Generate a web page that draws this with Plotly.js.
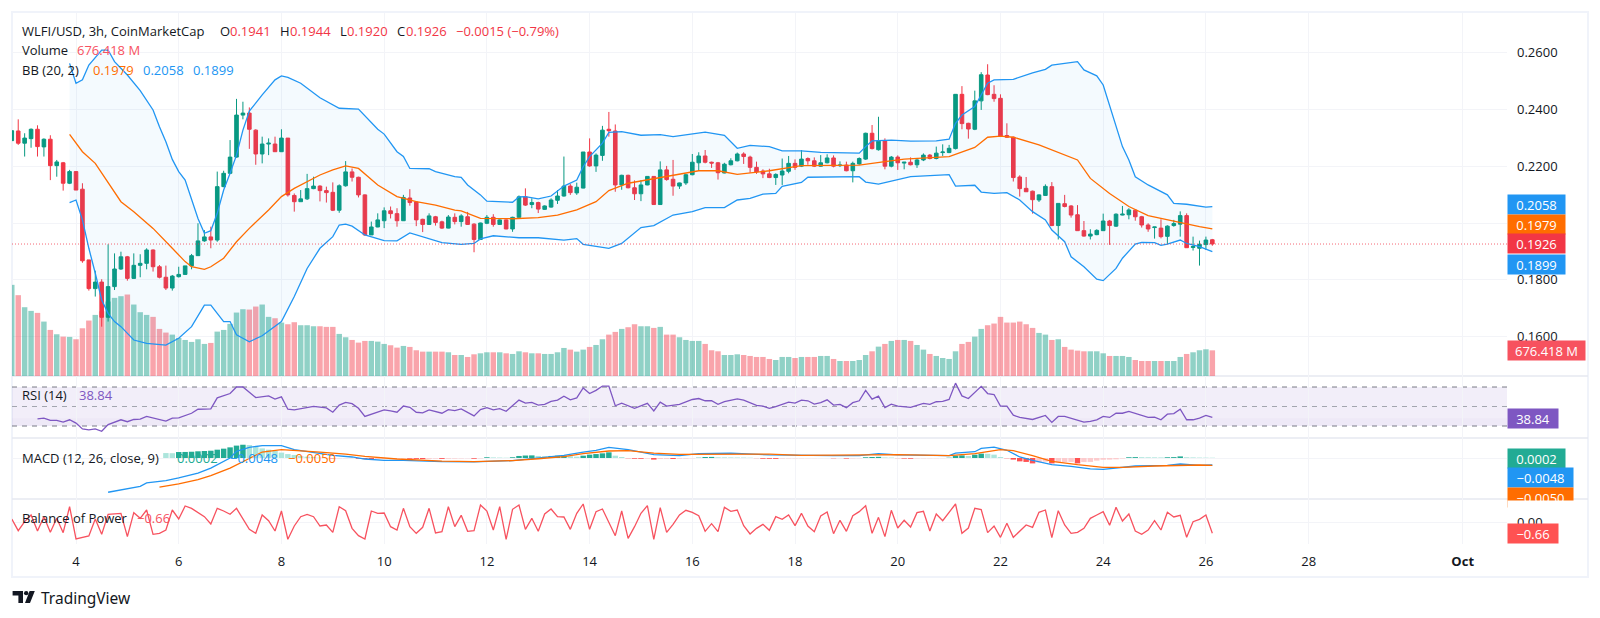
<!DOCTYPE html>
<html><head><meta charset="utf-8">
<script src="https://cdn.plot.ly/plotly-3.0.1.min.js"></script>
<style>html,body{margin:0;padding:0;background:#fff}#chart{width:1600px;height:618px}</style>
</head><body><div id="chart"></div>
<script>
const firstBar=-10;
const opens=[.2290,.2324,.2281,.2297,.2330,.2268,.2295,.2202,.2212,.2140,
.2181,.2119,.1870,.1769,.1792,.1668,.1776,.1838,.1881,.1805,
.1851,.1858,.1905,.1846,.1809,.1771,.1811,.1819,.1849,.1885,
.1937,.1951,.1940,.2128,.2175,.2232,.2380,.2387,.2327,.2243,
.2278,.2278,.2251,.2299,.2097,.2075,.2085,.2121,.2130,.2114,
.2108,.2045,.2131,.2180,.2161,.2099,.1958,.1986,.2008,.2043,
.2033,.2008,.2088,.2074,.2013,.1995,.2022,.2004,.1982,.2020,
.2005,.2022,.1996,.1942,.1999,.2020,.1995,.2011,.1979,.2020,
.2092,.2065,.2072,.2048,.2056,.2080,.2095,.2130,.2106,.2123,
.2250,.2201,.2238,.2330,.2324,.2134,.2168,.2124,.2103,.2134,
.2164,.2065,.2187,.2154,.2130,.2141,.2170,.2212,.2236,.2214,
.2212,.2176,.2205,.2219,.2243,.2232,.2196,.2183,.2173,.2160,
.2169,.2182,.2210,.2200,.2227,.2219,.2200,.2212,.2229,.2202,
.2204,.2184,.2208,.2225,.2316,.2258,.2289,.2200,.2232,.2211,
.2214,.2205,.2222,.2239,.2227,.2248,.2248,.2262,.2453,.2351,
.2330,.2430,.2521,.2453,.2439,.2308,.2302,.2162,.2122,.2112,
.2081,.2097,.2128,.1991,.2068,.2060,.2029,.1973,.1954,.1959,
.1973,.2007,.1989,.2028,.2029,.2045,.2022,.1993,.1984,.1982,
.1953,.1991,.1996,.2026,.1914,.1911,.1924,.1941];
const highs=[.2325,.2365,.2316,.2333,.2344,.2298,.2309,.2222,.2215,.2187,
.2183,.2140,.1870,.1832,.1802,.1925,.1893,.1899,.1884,.1893,
.1890,.1911,.1907,.1852,.1850,.1817,.1846,.1849,.1891,.1999,
.1975,.1987,.2181,.2184,.2292,.2437,.2427,.2407,.2330,.2304,
.2298,.2304,.2330,.2299,.2104,.2116,.2173,.2163,.2133,.2128,
.2143,.2136,.2218,.2192,.2163,.2101,.2005,.2034,.2055,.2058,
.2052,.2099,.2119,.2076,.2015,.2034,.2025,.2008,.2028,.2034,
.2031,.2039,.1999,.2001,.2028,.2031,.2013,.2013,.2022,.2097,
.2122,.2087,.2075,.2062,.2087,.2116,.2234,.2137,.2142,.2250,
.2298,.2245,.2342,.2391,.2347,.2170,.2170,.2150,.2151,.2164,
.2164,.2217,.2201,.2222,.2142,.2173,.2243,.2249,.2257,.2216,
.2215,.2212,.2228,.2248,.2249,.2237,.2216,.2189,.2191,.2175,
.2227,.2236,.2224,.2257,.2231,.2231,.2239,.2242,.2238,.2217,
.2216,.2216,.2231,.2318,.2345,.2374,.2298,.2236,.2238,.2215,
.2231,.2229,.2245,.2243,.2269,.2277,.2275,.2454,.2482,.2353,
.2466,.2531,.2559,.2485,.2453,.2351,.2304,.2168,.2162,.2114,
.2101,.2136,.2144,.2069,.2099,.2063,.2063,.2007,.1978,.1978,
.2033,.2011,.2034,.2060,.2052,.2047,.2025,.1999,.1986,.2013,
.1992,.2011,.2041,.2034,.1952,.1938,.1952,.1944];
const lows=[.2290,.2275,.2234,.2265,.2234,.2234,.2151,.2163,.2114,.2137,
.2116,.1860,.1762,.1741,.1635,.1653,.1764,.1835,.1797,.1803,
.1809,.1837,.1829,.1805,.1764,.1762,.1808,.1817,.1837,.1884,
.1934,.1911,.1934,.2126,.2173,.2230,.2365,.2261,.2205,.2210,
.2239,.2250,.2250,.2093,.2040,.2075,.2081,.2119,.2076,.2072,
.2042,.2036,.2128,.2146,.2090,.1955,.1958,.1985,.1982,.2016,
.1987,.2007,.2061,.1989,.1968,.1994,.1991,.1979,.1981,.1995,
.1987,.1993,.1897,.1940,.1996,.1987,.1994,.1978,.1969,.2018,
.2060,.2052,.2035,.2046,.2054,.2067,.2093,.2099,.2099,.2122,
.2198,.2180,.2219,.2304,.2110,.2117,.2122,.2081,.2077,.2133,
.2065,.2065,.2149,.2096,.2120,.2134,.2168,.2184,.2210,.2194,
.2153,.2175,.2203,.2217,.2208,.2177,.2173,.2158,.2158,.2134,
.2134,.2175,.2187,.2197,.2205,.2197,.2198,.2210,.2196,.2197,
.2182,.2143,.2205,.2222,.2259,.2255,.2189,.2196,.2187,.2189,
.2203,.2194,.2218,.2224,.2224,.2236,.2246,.2259,.2330,.2297,
.2327,.2398,.2450,.2427,.2304,.2300,.2146,.2093,.2110,.2033,
.2074,.2095,.1989,.1942,.2055,.2019,.1972,.1952,.1942,.1957,
.1972,.1923,.1986,.2027,.2013,.2008,.1984,.1969,.1945,.1946,
.1926,.1987,.1952,.1912,.1903,.1850,.1905,.1920];
const closes=[.2325,.2281,.2299,.2330,.2269,.2295,.2202,.2215,.2140,.2181,
.2116,.1867,.1769,.1792,.1668,.1776,.1838,.1881,.1805,.1851,
.1858,.1905,.1846,.1809,.1771,.1813,.1819,.1849,.1885,.1937,
.1951,.1940,.2128,.2175,.2232,.2380,.2387,.2330,.2243,.2278,
.2281,.2251,.2299,.2099,.2075,.2085,.2121,.2130,.2114,.2107,
.2045,.2131,.2180,.2161,.2099,.1958,.1986,.2011,.2043,.2033,
.2008,.2090,.2072,.2011,.1995,.2025,.2002,.1982,.2021,.2005,
.2025,.1995,.1942,.2000,.2020,.1995,.2011,.1979,.2020,.2092,
.2063,.2072,.2049,.2060,.2081,.2095,.2130,.2107,.2126,.2250,
.2201,.2239,.2327,.2325,.2134,.2168,.2124,.2103,.2134,.2164,
.2065,.2187,.2153,.2130,.2141,.2170,.2214,.2236,.2214,.2211,
.2177,.2207,.2219,.2243,.2234,.2196,.2180,.2173,.2160,.2171,
.2183,.2210,.2196,.2225,.2219,.2200,.2212,.2229,.2200,.2204,
.2184,.2210,.2227,.2316,.2262,.2288,.2200,.2232,.2212,.2214,
.2205,.2222,.2239,.2227,.2246,.2250,.2263,.2453,.2350,.2331,
.2430,.2522,.2452,.2438,.2306,.2302,.2160,.2121,.2110,.2082,
.2099,.2129,.1991,.2069,.2058,.2028,.1973,.1954,.1961,.1974,
.2007,.1991,.2031,.2031,.2046,.2022,.1993,.1979,.1986,.1952,
.1989,.1998,.2026,.1913,.1917,.1925,.1940,.1926];
const volumes=[2402,2130,1813,1716,1663,1434,1214,1100,1038,1030,
968,1258,1461,1610,1707,1962,2059,2103,2147,1883,
1681,1610,1558,1241,1144,1091,1003,950,898,968,
845,871,1170,1214,1373,1672,1760,1751,1830,1883,
1558,1522,1408,1364,1417,1338,1338,1311,1311,1294,
1294,1109,1021,950,880,924,924,906,845,810,
748,792,766,678,642,642,642,642,625,554,
554,502,572,598,625,625,625,598,581,651,
625,598,598,581,581,625,739,695,642,695,
766,818,968,1091,1162,1241,1285,1364,1311,1311,
1267,1294,1091,1091,1021,950,924,924,845,678,
651,554,554,572,554,528,502,502,449,422,
502,502,475,502,502,502,528,528,449,396,
396,396,422,554,651,774,845,924,950,950,
924,818,695,581,528,475,449,651,845,898,
1038,1241,1338,1382,1558,1408,1408,1434,1364,1267,
1135,1091,950,968,766,695,669,651,651,651,
598,528,528,528,502,422,396,396,396,396,
396,396,502,581,625,678,704,676.418];
const bop=[.20,-.50,.04,.44,-.52,.34,-.60,.24,-.62,.94,
-1.0,-.92,-.82,.20,-.72,.48,.52,.54,-.86,.58,
.24,.74,-.72,-.66,-.46,.74,.20,.98,.84,.58,
.34,-.10,.84,.68,.48,.84,.18,-.42,-.66,.44,
.10,-.52,.68,-1.02,-.22,.34,.48,.34,-.22,-.16,
-.60,.94,.70,-.36,-.80,-1.0,.68,.54,.56,-.26,
-.46,.84,-.26,-.66,-.30,.84,-.64,-.56,.94,-.26,
.42,-.54,-.50,1.04,.68,-.46,.94,-1.02,.78,1.04,
-.42,.24,-.54,.50,.80,.34,.32,-.42,.54,1.10,
-.42,.64,.80,.04,-.80,.68,-.96,-.26,.54,1.00,
-1.02,.88,-.60,-.12,.44,.72,.60,.40,-.54,-.08,
-.56,.90,.66,.74,-.20,-.70,-.36,-.12,-.48,.34,
.18,.44,-.20,.54,-.22,-.56,.38,.62,-.68,.12,
-.54,.40,.64,1.00,-.66,.30,-.86,.72,-.34,.12,
-.28,.58,.66,-.52,.50,.10,.58,1.10,-.66,-.34,
.84,.76,-.62,-.22,-.90,-.06,-.90,-.54,-.16,-.30,
.60,.74,-.92,.70,-.16,-.66,-.60,-.36,.24,.44,
.64,-.18,.90,.08,.50,-.52,-.72,-.46,.10,-.46,
.60,.32,.42,-.90,.04,.18,.44,-.66];

const bbUpperBars=[-1,0,1,2,4,5,6,8,10,12,13,14,15,16,17,18,19,20,21,22,23,24,25,26,27,29,31,32,33,35,38,41,44,47,48,50,51,52,55,56,59,60,61,63,64,68,69,70,72,74,76,78,79,80,82,83,85,88,91,93,95,98,101,103,105,108,110,113,116,122,123,124,127,130,134,136,137,138,140,141,142,143,146,149,151,152,156,157,159,160,161,162,163,164,165,167,170,171,173,176,177];
const bbUpper=[.2562,.2492,.2504,.2556,.2609,.2609,.2568,.2521,.2466,.2398,.2339,.2286,.2224,.2181,.2151,.2081,.2016,.1964,.1973,.2034,.2116,.2175,.2239,.2327,.2394,.2451,.2504,.2518,.2513,.2492,.2441,.2404,.2401,.2330,.2313,.2251,.2234,.2192,.2191,.2181,.2163,.2161,.2134,.2099,.2077,.2073,.2092,.2093,.2085,.2095,.2130,.2151,.2198,.2234,.2281,.2319,.2322,.2309,.2311,.2304,.2310,.2320,.2309,.2263,.2273,.2269,.2254,.2254,.2249,.2246,.2269,.2289,.2292,.2288,.2289,.2295,.2351,.2380,.2410,.2451,.2492,.2504,.2506,.2529,.2541,.2556,.2568,.2539,.2518,.2486,.2415,.2345,.2269,.2222,.2163,.2134,.2099,.2069,.2066,.2056,.2058];
const bbBasisBars=[-1,1,3,6,7,9,12,15,17,18,20,21,23,25,27,30,32,34,38,40,42,44,47,50,53,56,59,60,63,68,72,75,78,81,83,86,91,97,100,103,108,113,118,122,126,129,136,140,142,144,146,150,156,158,161,164,167,170,175,177];
const bbBasis=[.2312,.2251,.2210,.2110,.2075,.2040,.1981,.1911,.1864,.1846,.1837,.1846,.1876,.1934,.1981,.2046,.2093,.2122,.2169,.2187,.2201,.2192,.2134,.2093,.2075,.2063,.2045,.2043,.2016,.2015,.2019,.2028,.2046,.2075,.2114,.2140,.2161,.2184,.2184,.2171,.2184,.2202,.2203,.2204,.2216,.2225,.2234,.2266,.2302,.2306,.2302,.2275,.2222,.2157,.2104,.2058,.2026,.2011,.1987,.1979];
const bbLowerBars=[-1,0,1,2,3,4,5,6,7,9,11,14,16,18,20,21,23,24,25,27,29,32,34,36,38,40,41,42,43,45,48,50,52,54,57,60,62,63,65,69,72,76,78,79,83,85,88,90,93,96,98,101,103,105,107,109,110,113,114,122,123,125,128,130,136,137,140,141,143,145,147,149,151,152,154,155,157,159,160,162,163,165,166,168,169,170,172,173,175,177];
const bbLower=[.2072,.2081,.2011,.1911,.1823,.1729,.1682,.1653,.1635,.1588,.1576,.1570,.1594,.1635,.1711,.1711,.1653,.1653,.1606,.1582,.1603,.1653,.1741,.1840,.1911,.1952,.1993,.1996,.1989,.1958,.1938,.1937,.1965,.1952,.1931,.1925,.1928,.1944,.1955,.1948,.1948,.1940,.1945,.1925,.1911,.1928,.1984,.1991,.2028,.2040,.2054,.2054,.2081,.2087,.2102,.2104,.2129,.2143,.2161,.2163,.2144,.2137,.2154,.2163,.2170,.2130,.2133,.2109,.2104,.2107,.2081,.2040,.2011,.1975,.1934,.1881,.1846,.1802,.1797,.1840,.1876,.1926,.1932,.1931,.1921,.1926,.1940,.1928,.1917,.1899];

const rsiBars=[-6,-5,-4,-3,-2,-1,0,1,2,3,4,5,7,8,9,10,11,14,15,16,18,19,21,22,24,25,26,28,30,31,32,33,34,35,37,39,40,41,42,43,44,45,48,49,50,51,52,53,54,55,57,58,59,60,62,63,64,65,66,67,69,70,71,72,73,74,75,76,77,78,79,80,81,82,83,84,85,87,89,90,91,92,94,96,97,98,99,100,101,103,104,106,107,108,109,111,112,113,114,115,116,117,118,119,120,121,122,123,124,125,126,127,128,130,132,133,134,135,136,137,138,139,141,142,143,144,145,146,147,149,151,152,153,154,157,158,159,160,161,162,163,164,167,168,169,170,171,172,173,174,175,176,177];
const rsi=[37.4,38.1,35.7,35.7,34.0,36.4,33.0,27.0,26.0,27.0,24.6,31.4,36.4,34.4,36.7,37.1,39.8,35.1,38.1,38.4,43.1,47.2,47.5,58.9,63.3,70,70,59.2,60.9,57.6,59.9,47.2,46.5,47.5,50.2,48.5,44.1,51.5,54.2,52.9,48.2,39.8,46.5,45.5,44.1,50.5,49.2,44.1,43.5,46.5,43.1,46.8,45.8,47.5,40.4,46.8,48.8,46.5,47.8,45.1,56.6,53.5,54.2,51.5,52.2,55.2,56.6,60.6,56.9,58.9,69.0,63.3,66.6,71.0,71.0,50.8,53.5,48.2,53.2,45.5,54.5,50.5,52.2,57.2,58.2,55.9,55.9,52.2,54.9,57.9,56.6,51.2,50.5,48.2,49.8,54.5,53.5,56.6,55.9,52.5,53.9,56.9,51.5,52.2,48.8,53.9,55.9,66.6,57.6,60.6,48.8,52.5,50.5,49.2,53.2,52.2,54.9,55.2,57.2,74.0,60.9,58.2,70.7,63.3,62.3,50.5,50.5,41.1,38.8,36.7,40.8,33.7,39.8,39.8,34.0,34.7,36.4,39.8,38.8,43.1,43.1,44.9,38.8,39.1,36.4,42.1,42.8,47.2,36.4,36.4,38.1,40.8,38.84];
const macdBars=[5,7,10,11,14,16,19,21,24,25,27,29,32,34,38,40,43,45,48,51,57,62,68,72,76,79,81,83,86,90,94,97,102,108,113,118,122,125,128,136,137,140,141,143,145,147,149,152,155,158,160,162,165,170,172,175,177];
const macd=[-.0235,-.0217,-.0194,-.0171,-.0155,-.0137,-.0103,-.0069,0,.0046,.0073,.0085,.0085,.0057,.0030,.0018,.0007,-.0007,-.0016,-.0016,-.0025,-.0027,-.0018,.0002,.0018,.0041,.0053,.0073,.0057,.0023,.0016,.0030,.0034,.0021,.0016,.0016,.0016,.0030,.0021,.0016,.0034,.0043,.0066,.0075,.0053,.0007,-.0016,-.0046,-.0057,-.0075,-.0078,-.0069,-.0055,-.0050,-.0041,-.0050,-.0048];
const signalBars=[13,16,19,21,24,27,29,32,35,38,42,45,50,57,62,68,72,76,79,83,86,90,94,98,102,108,113,123,128,136,140,144,146,149,152,156,160,163,168,175,177];
const signal=[-.0199,-.0178,-.0149,-.0121,-.0069,0,.0041,.0057,.0050,.0041,.0027,.0011,-.0007,-.0021,-.0025,-.0018,-.0005,.0009,.0030,.0048,.0050,.0034,.0025,.0025,.0030,.0027,.0018,.0021,.0023,.0016,.0030,.0057,.0050,.0016,-.0023,-.0046,-.0064,-.0064,-.0055,-.0048,-.0050];
const histFirstBar=14;
const hist=[.0034,.0033,.0041,.00415,.0043,.0046,.0048,.0050,.0057,.0064,.0073,.0085,.0091,.0089,.0075,.0066,.0057,.0048,.0037,.0027,.0021,.0014,.0009,.0007,.0002,.00005,
-.0003,-.00025,-.0002,-.00015,-.0005,-.0008,-.0010,-.0008,-.0006,-.0005,-.0004,
-.0003,-.0005,-.0006,-.0007,-.0006,-.0004,-.0006,-.0005,-.0004,-.0003,-.0002,-.0005,-.0003,
.0005,.0004,.0003,.0002,.0005,.0014,.0017,.0018,.0014,.0012,.0014,.0016,.0017,.0012,.0009,.0016,.0023,.0027,.0032,.0039,.0016,.0007,-.0002,-.0005,-.00055,-.0004,-.0011,-.0007,-.0006,-.0007,-.0005,-.0004,-.0002,.0002,.0007,.00075,.0005,.00045,.0004,.00035,.0003,.0002,-.0001,-.0005,-.00055,-.0006,-.0004,-.0003,-.00025,-.0002,
-.00015,-.0001,-.00007,-.00004,-.0002,-.00015,-.0004,-.0003,-.0002,.0005,.0007,.0008,.0004,.0003,-.0001,-.0004,-.0005,-.0003,-.00025,-.0002,-.00015,-.0001,.0002,.0016,.0018,.0014,.0023,.0030,.0029,.0023,.0007,-.0002,-.0011,-.0023,-.0027,-.0037,-.0030,-.0025,-.0037,-.0030,-.0028,-.0027,-.0037,-.0028,-.0027,-.0018,-.0012,-.0011,-.0009,-.0004,.0005,.0006,.00055,.0005,.00045,.0004,.0005,.0006,.0011,.0005,.0004,.0003,.00025,.0002];

const dayTicks=[4,6,8,10,12,14,16,18,20,22,24,26,28];
const dayLabels=['4','6','8','10','12','14','16','18','20','22','24','26','28'];
const octTickDay=31;
const priceTicks=[.16,.18,.20,.22,.24,.26];
const priceLabels=['0.1600','0.1800','','0.2200','0.2400','0.2600'];

const t0=Date.UTC(2025,8,4);
const barTime=i=>new Date(t0+i*3*3600e3).toISOString();
const dayTime=d=>new Date(t0+(d-4)*24*3600e3).toISOString();
const seq=(start,n)=>Array.from({length:n},(_,k)=>barTime(start+k));
const barsX=seq(firstBar,closes.length);
const UP='#089981',DOWN='#f23645',BLUE='#2196f3',ORANGE='#ff6d00',PURPLE='#7e57c2',TEXT='#131722';
const volColors=closes.map((c,k)=>c>=opens[k]?'rgba(8,153,129,.45)':'rgba(242,54,69,.45)');
const histColors=hist.map((h,k)=>{const p=k?hist[k-1]:h;
  return h>=0?(h>p?'#22ab94':'#ace5dc'):(h>p?'#fccbcd':'#ff5252');});

const px=x=>(x-12)/1495, py=y=>(544-y)/531;
const LW=1.3;
const line=(name,bars,vals,color,yaxis,extra)=>Object.assign({type:'scatter',mode:'lines',name,x:bars.map(barTime),y:vals,
  line:{color,width:LW},xaxis:'x',yaxis,hoverinfo:'skip'},extra||{});

const traces=[
 {type:'bar',name:'Volume',x:barsX,y:volumes,marker:{color:volColors,line:{width:0}},xaxis:'x',yaxis:'y',hoverinfo:'skip'},
 {type:'candlestick',name:'WLFI/USD',x:barsX,open:opens,high:highs,low:lows,close:closes,xaxis:'x',yaxis:'y2',
  increasing:{line:{color:UP,width:1},fillcolor:UP},decreasing:{line:{color:DOWN,width:1},fillcolor:DOWN},whiskerwidth:0,hoverinfo:'skip'},
 line('BB upper',bbUpperBars,bbUpper,BLUE,'y2'),
 line('BB lower',bbLowerBars,bbLower,BLUE,'y2',{fill:'tonexty',fillcolor:'rgba(33,150,243,.05)'}),
 line('BB basis',bbBasisBars,bbBasis,ORANGE,'y2'),
 line('RSI',rsiBars,rsi,PURPLE,'y3'),
 {type:'bar',name:'Histogram',x:seq(histFirstBar,hist.length),y:hist,marker:{color:histColors,line:{width:0}},xaxis:'x',yaxis:'y4',hoverinfo:'skip'},
 line('MACD',macdBars,macd,BLUE,'y4'),
 line('Signal',signalBars,signal,ORANGE,'y4'),
 line('Balance of Power',barsX.map((_,k)=>firstBar+k),bop,'#f7525f','y5')
];

const FONT='"Open Sans","Noto Sans",sans-serif';
const ann=[];
const txt=(x,y,text,color,size)=>ann.push({xref:'paper',yref:'paper',x:px(x),y:py(y),xanchor:'left',yanchor:'middle',text,showarrow:false,borderpad:0,
  font:{family:FONT,size:size||13,color:color||TEXT}});
const badge=(x1,y,w,text,bg)=>ann.push({xref:'paper',yref:'paper',x:px(x1),y:py(y),xanchor:'left',yanchor:'middle',text,showarrow:false,borderpad:0,
  width:w,height:19,align:'center',valign:'middle',bgcolor:bg,font:{family:FONT,size:13,color:'#fff'}});

txt(21,30.5,'WLFI/USD, 3h, CoinMarketCap');
txt(219,30.5,'O');txt(229,30.5,'0.1941',DOWN);
txt(279,30.5,'H');txt(289,30.5,'0.1944',DOWN);
txt(339,30.5,'L');txt(346,30.5,'0.1920',DOWN);
txt(396,30.5,'C');txt(405,30.5,'0.1926',DOWN);
txt(455,30.5,'−0.0015 (−0.79%)',DOWN);
txt(21,50,'Volume');txt(75.5,50,'676.418 M','#f7525f');
txt(21,69.5,'BB (20, 2)');txt(91.5,69.5,'0.1979',ORANGE);txt(141.5,69.5,'0.2058',BLUE);txt(191.5,69.5,'0.1899',BLUE);
txt(21,395,'RSI (14)');txt(78,395,'38.84',PURPLE);
txt(21,457.5,'MACD (12, 26, close, 9)');txt(176,457.5,'0.0002','#22ab94');txt(229,457.5,'−0.0048',BLUE);txt(287,457.5,'−0.0050',ORANGE);
txt(21,518,'Balance of Power');txt(136,518,'−0.66','#f7525f');
ann.push({xref:'paper',yref:'paper',x:px(39.5),y:py(598),xanchor:'left',yanchor:'middle',text:'TradingView',showarrow:false,borderpad:0,font:{family:'"Noto Sans","Open Sans",sans-serif',size:15.5,color:TEXT}});

badge(1507,204.5,57,'0.2058',BLUE);
badge(1507,224,57,'0.1979',ORANGE);
badge(1507,243.3,57,'0.1926',DOWN);
badge(1507,264.2,57,'0.1899',BLUE);
badge(1507,350.8,77,'676.418 M','#f7525f');
badge(1507,418,50,'38.84',PURPLE);
badge(1507,458,57,'0.0002','#22ab94');
badge(1507,477.8,65,'−0.0048',BLUE);
badge(1507,497.4,65,'−0.0050',ORANGE);
ann.push({xref:'paper',yref:'paper',x:px(1507),y:py(499.5),xanchor:'left',yanchor:'top',text:' ',showarrow:false,borderpad:0,width:70,height:10,bgcolor:'#fff'});
badge(1507,533.3,50,'−0.66','#ff5252');

const rect=(x0,y0,x1,y1,o)=>Object.assign({type:'rect',xref:'paper',yref:'paper',x0:px(x0),y0:py(y0),x1:px(x1),y1:py(y1),layer:'below',line:{width:0}},o);
const hline=(yax,v,o)=>Object.assign({type:'line',xref:'paper',yref:yax,x0:px(12),x1:px(1507),y0:v,y1:v,layer:'below'},o);
const sep=y=>({type:'line',xref:'paper',yref:'paper',x0:px(12),x1:px(1588),y0:py(y),y1:py(y),line:{color:'#e6e8f0',width:1.5},layer:'below'});
const poly=pts=>({type:'path',xref:'paper',yref:'paper',layer:'above',fillcolor:TEXT,line:{width:0},
  path:'M'+pts.map(p=>px(p[0])+','+py(p[1])).join(' L')+' Z'});

const shapes=[
 rect(12,12,1588,577,{line:{color:'#f0f3fa',width:2},fillcolor:'rgba(0,0,0,0)'}),
 sep(376),sep(438),sep(499),
 {type:'rect',xref:'paper',yref:'y3',x0:px(12),x1:px(1507),y0:30,y1:70,fillcolor:'rgba(126,87,194,.1)',line:{width:0},layer:'below'},
 {type:'rect',xref:'paper',yref:'y3',x0:px(12),x1:px(1507),y0:30,y1:38,fillcolor:'rgba(126,87,194,.03)',line:{width:0},layer:'below'},
 hline('y3',70,{line:{color:'#787b86',width:1,dash:'5px,5px'}}),
 hline('y3',50,{line:{color:'#a3a6af',width:1,dash:'5px,5px'}}),
 hline('y3',30,{line:{color:'#787b86',width:1,dash:'5px,5px'}}),
 {type:'line',xref:'paper',yref:'y2',x0:px(12),x1:px(1507),y0:closes[closes.length-1],y1:closes[closes.length-1],layer:'above',line:{color:'rgba(242,54,69,.75)',width:1,dash:'1px,2px'}},
 poly([[12.6,591],[23,591],[23,603],[18.4,603],[18.4,595.6],[12.6,595.6]]),
 poly([[34.8,591],[30,603],[25,603],[29.6,591]]),
 {type:'circle',xref:'paper',yref:'paper',x0:px(24),x1:px(28.4),y0:py(595.3),y1:py(591),fillcolor:TEXT,line:{width:0},layer:'above'}
];

const gridCol='#f3f4f8';
const noAxis={showgrid:false,zeroline:false,showline:false,showticklabels:false,ticks:'',fixedrange:true};
const layout={
 width:1600,height:618,margin:{l:12,r:93,t:13,b:74,pad:0},paper_bgcolor:'#fff',plot_bgcolor:'rgba(0,0,0,0)',
 showlegend:false,bargap:.15,boxgap:.2,dragmode:false,hovermode:false,font:{family:FONT,size:13,color:TEXT},
 xaxis:{type:'date',range:[barTime(-9.97),barTime(222.9)],anchor:'y5',rangeslider:{visible:false},
  tickmode:'array',tickvals:dayTicks.concat([octTickDay]).map(dayTime),ticktext:dayLabels.concat(['<b>Oct</b>']),
  ticks:'',showline:false,zeroline:false,showgrid:true,gridcolor:gridCol,gridwidth:1,ticklabelstandoff:8,
  tickfont:{family:FONT,size:13,color:TEXT},fixedrange:true},
 yaxis:Object.assign({},noAxis,{domain:[py(376),1],range:[0,9565]}),
 yaxis2:{domain:[py(376),1],overlaying:'y',anchor:'x',side:'right',range:[.14613,.27394],tickmode:'array',tickvals:priceTicks,ticktext:priceLabels,
  ticks:'',ticklabelstandoff:9,showgrid:true,gridcolor:gridCol,zeroline:false,showline:false,tickfont:{family:FONT,size:13,color:TEXT},fixedrange:true},
 yaxis3:Object.assign({},noAxis,{domain:[py(438),py(376)],anchor:'x',side:'right',range:[17.7,81.3]}),
 yaxis4:{domain:[py(499),py(438)],anchor:'x',side:'right',range:[-.02812,.01372],tickmode:'array',tickvals:[0],showticklabels:false,ticks:'',showgrid:true,gridcolor:gridCol,zeroline:false,showline:false,fixedrange:true},
 yaxis5:{domain:[0,py(499)],anchor:'x',side:'right',range:[-1.3,1.4],tickmode:'array',tickvals:[0],ticktext:['0.00'],ticks:'',ticklabelstandoff:9,showgrid:true,gridcolor:gridCol,zeroline:false,showline:false,tickfont:{family:FONT,size:13,color:TEXT},fixedrange:true},
 annotations:ann,shapes
};
Plotly.newPlot('chart',traces,layout,{displayModeBar:false,staticPlot:true});
</script></body></html>
